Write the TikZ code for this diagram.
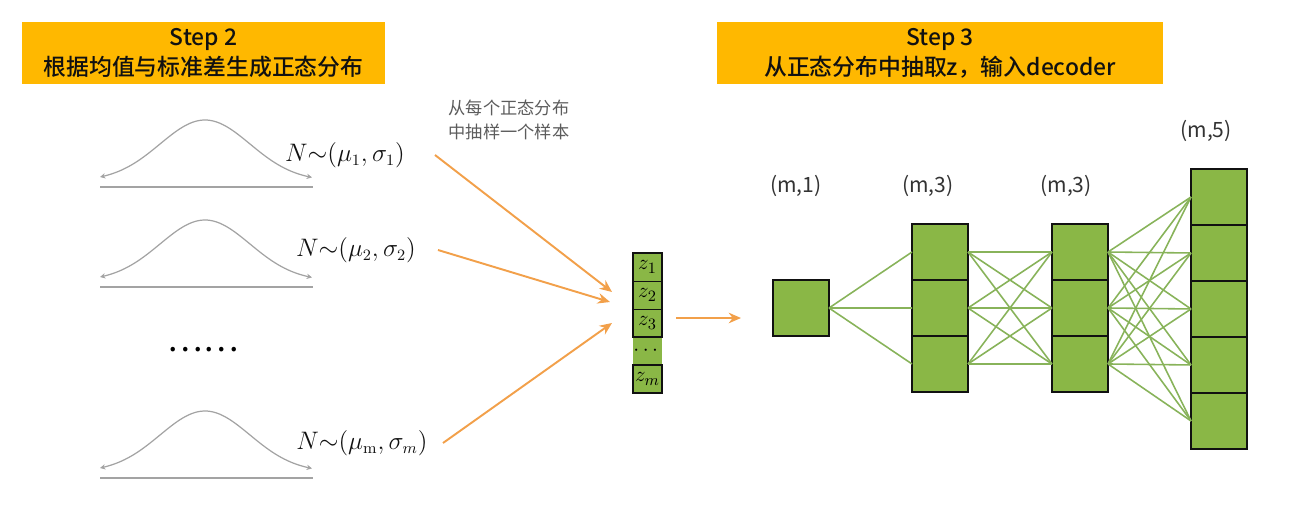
\documentclass[tikz,border=0pt]{standalone}
\usepackage[no-math]{fontspec}
\setmainfont{Noto Sans CJK SC}
\newfontfamily\bannerfont{Noto Sans CJK SC Medium}
\usepackage{amsmath}
\usetikzlibrary{arrows.meta,positioning,calc}
\definecolor{vaeInk}{HTML}{111111}
\definecolor{vaeGold}{HTML}{FFB800}
\definecolor{vaeOrange}{HTML}{F2A04A}
\definecolor{vaeGreen}{HTML}{8AB746}
\definecolor{vaeLink}{HTML}{88B35A}
\definecolor{vaeGrey}{HTML}{A3A3A3}
\definecolor{vaeText}{HTML}{333333}
\tikzset{
  stepbanner/.style={fill=vaeGold, minimum width=7.26cm, minimum height=1.24cm, inner sep=0pt, align=center, text=vaeInk, font=\fontsize{13}{17}\selectfont\bannerfont},
  bell/.style={draw=vaeGrey, line width=0.7pt, {Stealth[length=3pt,width=3pt]}-{Stealth[length=3pt,width=3pt]}},
  axisln/.style={draw=vaeGrey, line width=0.6pt},
  dist/.style={font=\fontsize{13.5}{16}\selectfont, text=vaeInk},
  note/.style={align=center, text=vaeText!80, font=\fontsize{9.8}{13.6}\selectfont},
  dimlbl/.style={text=vaeText, font=\fontsize{12}{14}\selectfont},
  zcell/.style={draw=vaeInk, line width=0.5pt, fill=vaeGreen, minimum width=0.58cm, minimum height=0.56cm, inner sep=0pt, outer sep=0pt, font=\fontsize{13}{14}\selectfont},
  cell/.style={draw=vaeInk, line width=1.1pt, fill=vaeGreen, minimum width=1.12cm, minimum height=1.12cm, inner sep=0pt, outer sep=0pt},
  oarr/.style={-{Stealth[length=7pt,width=6pt]}, line width=1.1pt, draw=vaeOrange},
  link/.style={draw=vaeLink, line width=0.9pt},
}

\begin{document}
\begin{tikzpicture}[x=0.02cm, y=-0.02cm]
  \useasboundingbox (0,0) rectangle (1290,507);
  % banners
  \node[stepbanner] (step2) at (203.5,53) {Step 2\\根据均值与标准差生成正态分布};
  \node[stepbanner, minimum width=8.92cm] (step3) at (940,53) {Step 3\\从正态分布中抽取z，输入decoder};
  % normal curves
  \draw[axisln] (100,187) -- (313,187);
  \draw[bell] plot[domain=100:312, samples=70] (\x, {181-61*exp(-((\x-205)^2)/4050)});
  \draw[axisln] (100,287) -- (313,287);
  \draw[bell] plot[domain=100:312, samples=70] (\x, {281-61*exp(-((\x-205)^2)/4050)});
  \draw[axisln] (100,478) -- (313,478);
  \draw[bell] plot[domain=100:312, samples=70] (\x, {472-61*exp(-((\x-205)^2)/4050)});
  \node[dist] (n1) at (345,155) {$N{\sim}(\mu_1,\sigma_1)$};
  \node[dist] (n2) at (356,250) {$N{\sim}(\mu_2,\sigma_2)$};
  \node[dist] (nm) at (362,443) {$N{\sim}(\mu_{\mathrm{m}},\sigma_m)$};
  \node[font=\fontsize{19}{20}\selectfont] (vdots) at (203,350) {……};
  \node[note] (pick) at (509,120) {从每个正态分布\\中抽样一个样本};
  % latent vector z
  \node[zcell] (z1) at (647.5,267) {$z_1$};
  \node[zcell, below=0pt of z1] (z2) {$z_2$};
  \node[zcell, below=0pt of z2] (z3) {$z_3$};
  \node[zcell, draw=none, below=0pt of z3] (zd) {$\cdots$};
  \node[zcell, line width=1.1pt, below=0pt of zd] (zm) {$z_m$};
  \draw[vaeInk, line width=1.1pt] (z1.north west) rectangle (z3.south east);
  \coordinate (s1) at (435,155); \coordinate (e1) at (612,292);
  \coordinate (s2) at (438,250); \coordinate (e2) at (610,302);
  \coordinate (s3) at (443,443); \coordinate (e3) at (612,323);
  \draw[oarr] (s1) -- (e1);
  \draw[oarr] (s2) -- (e2);
  \draw[oarr] (s3) -- (e3);
  \coordinate (zo) at (676,318); \coordinate (di) at (741,318);
  \draw[oarr] (zo) -- (di);
  % decoder layers
  \node[cell] (m1) at (801,308) {};
  \node[cell] (a1) at (940,252) {};
  \node[cell, below=0pt of a1] (a2) {};
  \node[cell, below=0pt of a2] (a3) {};
  \node[cell] (b1) at (1080,252) {};
  \node[cell, below=0pt of b1] (b2) {};
  \node[cell, below=0pt of b2] (b3) {};
  \node[cell] (c1) at (1219,197) {};
  \node[cell, below=0pt of c1] (c2) {};
  \node[cell, below=0pt of c2] (c3) {};
  \node[cell, below=0pt of c3] (c4) {};
  \node[cell, below=0pt of c4] (c5) {};
  \foreach \j in {1,2,3} \draw[link] (m1.east) -- (a\j.west);
  \foreach \i in {1,2,3} \foreach \j in {1,2,3} \draw[link] (a\i.east) -- (b\j.west);
  \foreach \i in {1,2,3} \foreach \j in {1,...,5} \draw[link] (b\i.east) -- (c\j.west);
  \node[dimlbl] (l1) at (796,186) {(m,1)};
  \node[dimlbl] (l2) at (928,186) {(m,3)};
  \node[dimlbl] (l3) at (1066,186) {(m,3)};
  \node[dimlbl] (l4) at (1206,131) {(m,5)};
\end{tikzpicture}
\end{document}
